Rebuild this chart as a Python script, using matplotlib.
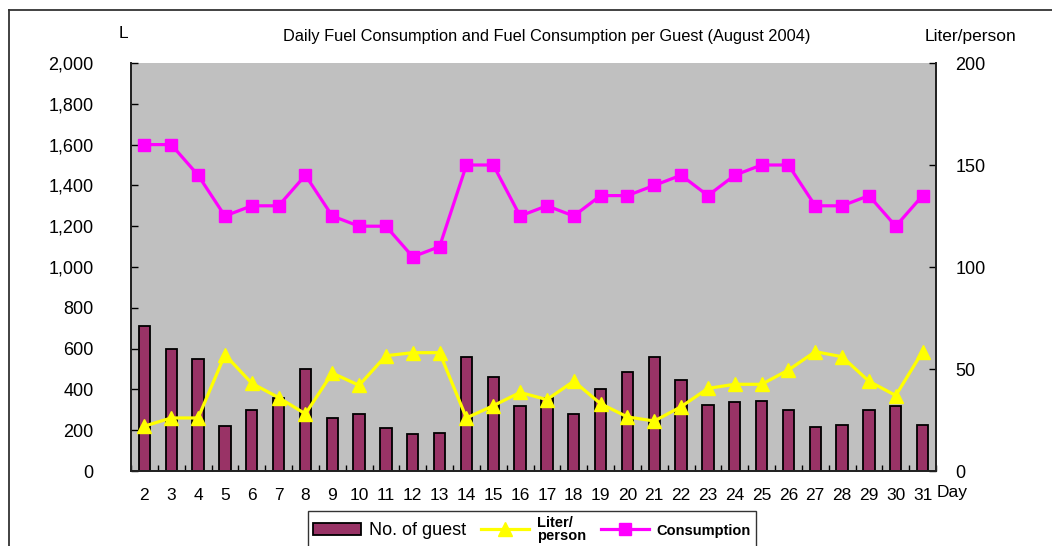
import matplotlib
matplotlib.use("Agg")
from matplotlib import pyplot as plt
from matplotlib.lines import Line2D
from matplotlib.patches import Patch
from matplotlib.ticker import FuncFormatter, MultipleLocator
import numpy as np

plt.rcParams['font.family'] = ['Liberation Sans', 'DejaVu Sans']

# ---------------------------------------------------------
days = list(range(2, 32))
guests = [710, 600, 550, 220, 300, 360, 500, 260, 280, 210, 180, 185, 560, 460, 320,
          360, 280, 400, 485, 560, 445, 325, 340, 345, 300, 215, 225, 300, 320, 225]
liter_per_person = [22, 26, 26, 57, 43, 36, 28, 48, 42, 56.5, 58, 58, 26, 32, 38.5,
                    35, 44, 33, 26.5, 24.5, 31.5, 40.5, 42.5, 42.5, 49.5, 58.5, 56, 44, 37, 58.5]
consumption = [1600, 1600, 1450, 1250, 1300, 1300, 1450, 1250, 1200, 1200, 1050, 1100, 1500, 1500, 1250,
               1300, 1250, 1350, 1350, 1400, 1450, 1350, 1450, 1500, 1500, 1300, 1300, 1350, 1200, 1350]

title = 'Daily Fuel Consumption and Fuel Consumption per Guest (August 2004)'
W, H = 1052, 546

fig = plt.figure(figsize=(W / 100, H / 100), dpi=100)
ax = fig.add_axes([131 / W, 1 - 471 / H, (936 - 131) / W, (471 - 63) / H])
ax.set_facecolor('#c0c0c0')

x = np.arange(len(days))
ax.bar(x, guests, width=0.42, color='#993366', edgecolor='black', linewidth=1.3, zorder=2)
ax.plot(x, consumption, color='#ff00ff', lw=2.3, marker='s', markersize=8.5, zorder=3)

ax2 = ax.twinx()
ax2.patch.set_visible(False)
ax2.plot(x, liter_per_person, color='#ffff00', lw=2.3, marker='^', markersize=9.5, zorder=3)

ax.set_xlim(-0.5, len(days) - 0.5)
ax.set_ylim(0, 2000)
ax2.set_ylim(0, 200)

ax.yaxis.set_major_locator(MultipleLocator(200))
ax.yaxis.set_major_formatter(FuncFormatter(lambda v, p: f'{int(v):,}'))
ax2.yaxis.set_major_locator(MultipleLocator(50))

ax.set_xticks(x)
ax.set_xticklabels([str(d) for d in days])
ax.set_xticks(np.arange(-0.5, len(days)), minor=True)
ax.tick_params(axis='x', which='major', length=0, pad=12, labelsize=12.5)
ax.tick_params(axis='x', which='minor', direction='in', length=4, width=1, color='black')
ax.tick_params(axis='y', direction='in', length=5, width=1, pad=27, labelsize=13)
ax2.tick_params(axis='y', direction='in', length=5, width=1, pad=14, labelsize=13)

for a in (ax, ax2):
    a.spines['top'].set_visible(False)
    for s in ('left', 'right', 'bottom'):
        a.spines[s].set_color('#222222')
        a.spines[s].set_linewidth(1.3)

fig.text(283 / W, 1 - 37 / H, title, fontsize=11.8, ha='left', va='center')
fig.text(123 / W, 1 - 34 / H, 'L', fontsize=12.5, ha='center', va='center')
fig.text(971 / W, 1 - 37 / H, 'Liter/person', fontsize=12.5, ha='center', va='center')
fig.text(937 / W, 1 - 492 / H, 'Day', fontsize=12.5, ha='left', va='center')

# outer frame (partly outside the picture)
fig.add_artist(Line2D([9 / W, 1.0], [1 - 10 / H, 1 - 10 / H], color='#333333', lw=1.3))
fig.add_artist(Line2D([9 / W, 9 / W], [0.0, 1 - 10 / H], color='#333333', lw=1.3))

handles = [
    Patch(facecolor='#993366', edgecolor='black', linewidth=1.3),
    Line2D([], [], color='#ffff00', lw=2.3, marker='^', markersize=9.5),
    Line2D([], [], color='#ff00ff', lw=2.3, marker='s', markersize=8.5),
]
labels = ['No. of guest', 'Liter/\nperson', 'Consumption']
leg = fig.legend(handles, labels, loc='upper left', bbox_to_anchor=(308 / W, 1 - 511 / H),
                 ncol=3, fontsize=12, frameon=True, fancybox=False, edgecolor='black',
                 handlelength=2.9, handletextpad=0.45, columnspacing=0.9,
                 borderpad=0.3, borderaxespad=0)
leg.get_frame().set_linewidth(1.0)
texts = leg.get_texts()
texts[0].set_fontsize(13)
for t in texts[1:]:
    t.set_fontsize(10.5)
    t.set_fontweight('bold')
    t.set_linespacing(0.9)

fig.savefig('out.png', dpi=100)
